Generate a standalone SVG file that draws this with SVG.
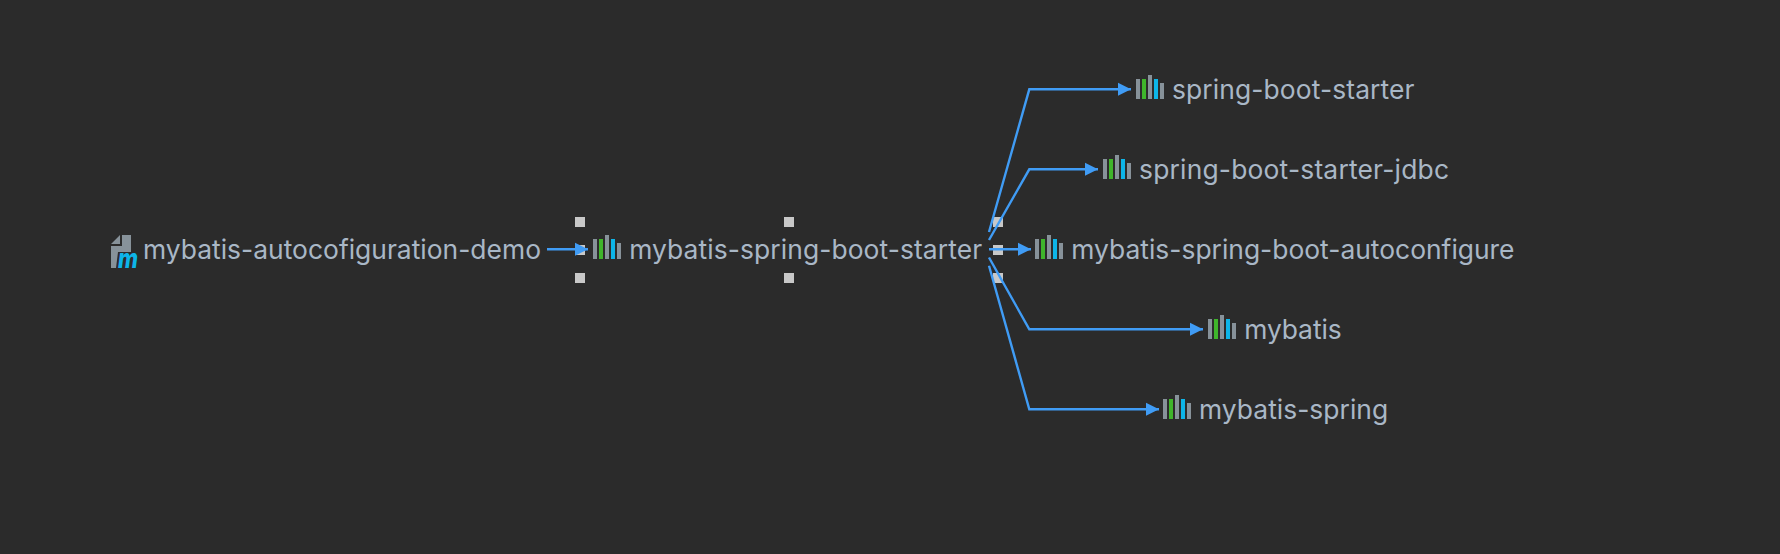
<svg xmlns="http://www.w3.org/2000/svg" width="1780" height="554" viewBox="0 0 1780 554">
<style>
text{font-family:Inter,"Noto Sans","Liberation Sans",sans-serif;font-size:26.45px;fill:#a9b7c6}
.c{fill:none;stroke:#409cf5;stroke-width:2.4}
.h{fill:#c8c8c8}
.g{fill:#87929a}.n{fill:#3fb52b}.b{fill:#0db5e8}
</style>
<defs>
<marker id="a" markerUnits="userSpaceOnUse" markerWidth="15" markerHeight="15" refX="13" refY="7" orient="auto"><path d="M0 0.5L13 7L0 13.5z" fill="#409cf5"/></marker>
<g id="lib"><rect class="g" width="4" height="20" y="4"/><rect class="n" x="6" width="4" height="20" y="4"/><rect class="g" x="12" width="4" height="24"/><rect class="b" x="18" width="4" height="20" y="4"/><rect class="g" x="24" width="4" height="16" y="8"/></g>
</defs>
<rect width="1780" height="554" fill="#2b2b2b"/>
<g id="n1">
<path class="g" d="M111 244L120 235V244zM122 235H131V252H122zM111 246H122V252H118L116 268H111z"/>
<text x="118" y="268" textLength="20" lengthAdjust="spacingAndGlyphs" style="font-size:27px;font-weight:800;font-style:italic;fill:#0db5e8">m</text>
<text x="143" y="259" textLength="398">mybatis-autocofiguration-demo</text>
</g>
<g id="n2"><use href="#lib" x="593" y="235"/><text x="629.2" y="259" textLength="352.9">mybatis-spring-boot-starter</text></g>
<g id="n3"><use href="#lib" x="1136" y="75"/><text x="1172" y="99" textLength="242.5">spring-boot-starter</text></g>
<g id="n4"><use href="#lib" x="1103" y="155"/><text x="1139" y="179" textLength="310">spring-boot-starter-jdbc</text></g>
<g id="n5"><use href="#lib" x="1035" y="235"/><text x="1071.3" y="259" textLength="443.2">mybatis-spring-boot-autoconfigure</text></g>
<g id="n6"><use href="#lib" x="1208" y="315"/><text x="1244.2" y="339" textLength="97.5">mybatis</text></g>
<g id="n7"><use href="#lib" x="1163" y="395"/><text x="1199" y="419" textLength="189.2">mybatis-spring</text></g>
<g id="handles">
<rect class="h" x="575" y="217" width="10" height="10"/><rect class="h" x="575" y="245" width="10" height="10"/><rect class="h" x="575" y="273" width="10" height="10"/>
<rect class="h" x="784" y="217" width="10" height="10"/><rect class="h" x="784" y="273" width="10" height="10"/>
<rect class="h" x="993" y="217" width="10" height="10"/><rect class="h" x="993" y="245" width="10" height="10"/><rect class="h" x="993" y="273" width="10" height="10"/>
</g>
<g id="connectors">
<path class="c" marker-end="url(#a)" d="M547 249.3H588"/>
<path class="c" marker-end="url(#a)" d="M989 232L1029.3 89.3H1131"/>
<path class="c" marker-end="url(#a)" d="M989 240L1029.3 169.3H1098"/>
<path class="c" marker-end="url(#a)" d="M989 249.3H1031"/>
<path class="c" marker-end="url(#a)" d="M989 257.5L1029.3 329.3H1203"/>
<path class="c" marker-end="url(#a)" d="M989 265.7L1029.3 409.3H1159"/>
</g>
</svg>
